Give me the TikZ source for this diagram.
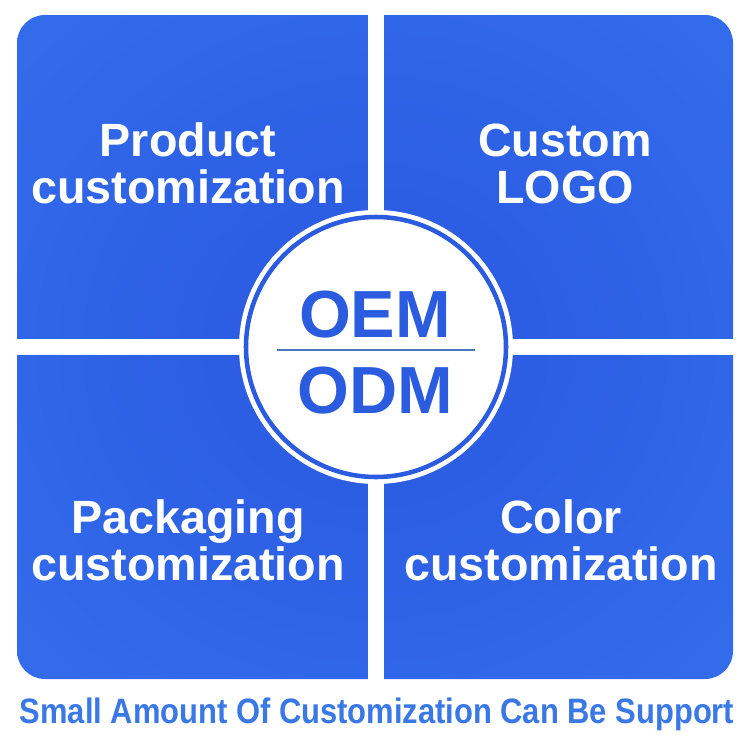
\documentclass[tikz,border=0pt]{standalone}
\usepackage{fontspec}
\setmainfont{Liberation Sans}
\newfontfamily\narrowsans[FakeStretch=0.875]{Liberation Sans}
\usepackage{tikz}
\usetikzlibrary{positioning}

\definecolor{qdark}{HTML}{2B5CE2}
\definecolor{qlight}{HTML}{3F82F8}
\definecolor{ringblue}{HTML}{2B5CE0}
\definecolor{rule}{HTML}{4A78BE}
\definecolor{foot}{HTML}{3A78E6}
\pgfdeclareradialshading{quadglow}{\pgfpoint{0bp}{0bp}}{color(0bp)=(qdark); color(8bp)=(qdark); color(71bp)=(qlight)}

\begin{document}
\begin{tikzpicture}[x=0.75pt, y=-0.75pt,
    tile/.style={text=white, align=center, anchor=base, font=\bfseries\fontsize{35}{35.25}\selectfont},
    core/.style={text=ringblue, anchor=base, font=\bfseries\fontsize{50}{50}\selectfont}]
  \useasboundingbox (0,0) rectangle (750,750);
  \fill[white] (0,0) rectangle (750,750);
  % four panels = one rounded plate cut by two white strips
  \shade[shading=quadglow, rounded corners=21pt] (17,15) rectangle (733,679);
  \fill[white] (368,10) rectangle (384,684);
  \fill[white] (12,339) rectangle (738,355);
  % centre badge
  \fill[white] (376,347) circle[radius=137];
  \draw[ringblue, line width=3.4pt] (376,347) circle[radius=130];
  \node[tile] (P) at (188,203) {Product\\customization};
  \node[tile] (L) at (565,203) {Custom\\LOGO};
  \node[tile] (K) at (188,580) {Packaging\\customization};
  \node[tile] (C) at (561,580) {Color\\customization};
  \node[core] (oem) at (375,337) {OEM};
  \node[core] (odm) at (375,413) {ODM};
  \coordinate (ruleL) at (277,350);
  \coordinate (ruleR) at (475,350);
  \draw[rule, line width=1.1pt] (ruleL) -- (ruleR);
  \node[text=foot, anchor=base, font=\narrowsans\bfseries\fontsize{26.5}{27}\selectfont] (note) at (377,723) {Small Amount Of Customization Can Be Support};
\end{tikzpicture}
\end{document}
